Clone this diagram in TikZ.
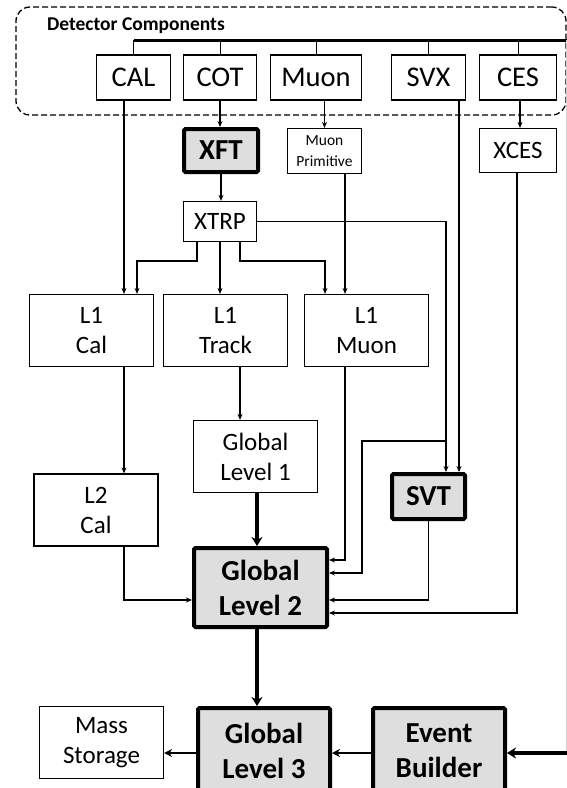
\documentclass[tikz,border=0pt]{standalone}
\usepackage{fontspec}
\setmainfont{Carlito}
\usepackage{tikz}
\usetikzlibrary{arrows.meta,calc}
\definecolor{trigfill}{HTML}{DEDEDE}
\tikzset{
  box/.style   ={draw, line width=1.2pt, fill=white, align=center, inner sep=0pt,
                 font=\fontsize{25}{30}\selectfont},
  detbox/.style={box, minimum height=45pt, font=\fontsize{28.5}{30}\selectfont},
  twoline/.style={box, minimum width=124pt, minimum height=72pt},
  % hardware boards drawn heavy and grey
  hwbox/.style ={box, line width=4pt, fill=trigfill, rounded corners=1.5pt,
                 font=\bfseries\fontsize{29}{35}\selectfont},
  frame/.style ={draw, dashed, dash pattern=on 6pt off 3pt, line width=1.3pt,
                 rounded corners=14pt},
  grouptitle/.style={font=\bfseries\fontsize{19.5}{20}\selectfont, anchor=west, inner sep=0pt},
  sig/.style   ={draw, line width=1.3pt, -{Stealth[length=6pt,width=5pt]}},
  midsig/.style={draw, line width=2.2pt, -{Stealth[length=8pt,width=8pt]}},
  bigsig/.style={draw, line width=3.5pt, -{Stealth[length=9pt,width=11pt]}},
  tick/.style  ={draw, line width=1pt},
  bus/.style   ={draw, line width=3pt},
  >=Stealth,
}

\begin{document}
\begin{tikzpicture}[x=1pt,y=-1pt]
\useasboundingbox (0,0) rectangle (567,788);
\node[frame, minimum width=550pt, minimum height=108pt] (detgroup) at (291,61) {};
\node[grouptitle] (dettitle) at (47,26) {Detector Components};
\foreach \n/\x/\w in {CAL/133.5/74, COT/220/73, Muon/316/91, SVX/428.5/74, CES/518/77}
  {\node[detbox, minimum width=\w*1pt] (\n) at (\x,77.5) {\n};}
\node[hwbox, minimum width=74pt, minimum height=43pt] (XFT) at (221,150.5) {XFT};
\node[box, minimum width=74pt, minimum height=45pt, font=\fontsize{15.5}{21}\selectfont]
  (MP) at (324.5,151) {Muon\\Primitive};
\node[box, minimum width=77pt, minimum height=44pt] (XCES) at (518,150.5) {XCES};
\node[box, minimum width=73pt, minimum height=40pt] (XTRP) at (220,221.5) {XTRP};
\foreach \n/\x/\t in {L1cal/91.5/Cal, L1trk/225.5/Track, L1muon/366.5/Muon}
  {\node[twoline] (\n) at (\x,330.5) {L1\\\t};}
\node[twoline] (GL1) at (255.5,456.5) {Global\\Level 1};
\node[twoline] (L2cal) at (96,510) {L2\\Cal};
\node[hwbox, minimum width=73pt, minimum height=45pt] (SVT) at (428.5,496.5) {SVT};
\node[hwbox, minimum width=133pt, minimum height=79pt] (GL2) at (260.5,587.5) {Global\\Level 2};
\node[hwbox, minimum width=132pt, minimum height=86pt] (GL3) at (264,751) {Global\\Level 3};
\node[hwbox, minimum width=132pt, minimum height=86pt] (EB) at (439,751) {Event\\Builder};
\node[twoline, minimum height=72pt] (mass) at (101.5,742.5) {Mass\\Storage};
\coordinate (busend) at (568,40);
\coordinate (ebin) at (568,753);

% readout bus feeding the detector components
\draw[bus] (CAL.north |- busend) -- (busend);
\foreach \n in {CAL,COT,Muon,SVX,CES}
  {\draw[tick] (\n.north) -- (\n.north |- busend);}
\draw[gray!35, line width=0.8pt] ([xshift=-2pt]busend) -- ([xshift=-2pt]ebin);

% level 1
\draw[sig] (COT.south) -- (COT.south |- XFT.north);
\draw[sig] (MP.north |- Muon.south) -- (MP.north);
\draw[sig] ([xshift=2pt]CES.south) -- ([xshift=2pt]CES.south |- XCES.north);
\draw[sig] (XFT.south) -- (XFT.south |- XTRP.north);
\draw[sig] ([xshift=-9.5pt]CAL.south) -- ([xshift=-9.5pt]CAL.south |- L1cal.north);
\draw[sig] ([xshift=-23pt]XTRP.south) -- ++(0,19) -| ([xshift=45.5pt]L1cal.north);
\draw[sig] (XTRP.south) -- (XTRP.south |- L1trk.north);
\draw[sig] ([xshift=20pt]XTRP.south) -- ++(0,19) -| ([xshift=-41.5pt]L1muon.north);
\draw[sig] ([xshift=20.5pt]MP.south) -- ([xshift=20.5pt]MP.south |- L1muon.north);

% level 2
\draw[sig] (XTRP.east) -| ([xshift=17.5pt]SVT.north);
\draw[sig] ([xshift=17.5pt]SVT.north) ++(0,-31) -- ++(-84,0) |- ([yshift=14.5pt]GL2.east);
\draw[sig] ([xshift=30.5pt]SVX.south) -- ([xshift=30.5pt]SVT.north);
\draw[sig] ([xshift=-1pt]XCES.south) |- ([yshift=-25.5pt]GL2.east);
\draw[sig] ([xshift=32.5pt]L1cal.south) -- ([xshift=32.5pt]L1cal.south |- L2cal.north);
\draw[sig] ([xshift=14.5pt]L1trk.south) -- ([xshift=14.5pt]L1trk.south |- GL1.north);
\draw[sig] ([xshift=-21.5pt]L1muon.south) |- ([yshift=27.5pt]GL2.east);
\draw[bigsig] ([xshift=1.5pt]GL1.south) -- ([xshift=1.5pt]GL1.south |- GL2.north);
\draw[sig] ([xshift=28pt]L2cal.south) |- ([yshift=-12.5pt]GL2.west);
\draw[sig] (SVT.south) |- ([yshift=-12.5pt]GL2.east);

% level 3 and storage
\draw[bigsig] ([xshift=-3.5pt]GL2.south) -- ([xshift=-3.5pt]GL2.south |- GL3.north);
\draw[midsig] ([yshift=-2pt]EB.west) -- ([yshift=-2pt]EB.west -| GL3.east);
\draw[midsig] ([yshift=-2pt]GL3.west) -- ([yshift=-2pt]GL3.west -| mass.east);
\draw[bigsig] (ebin) -- (ebin -| EB.east);
\end{tikzpicture}
\end{document}
